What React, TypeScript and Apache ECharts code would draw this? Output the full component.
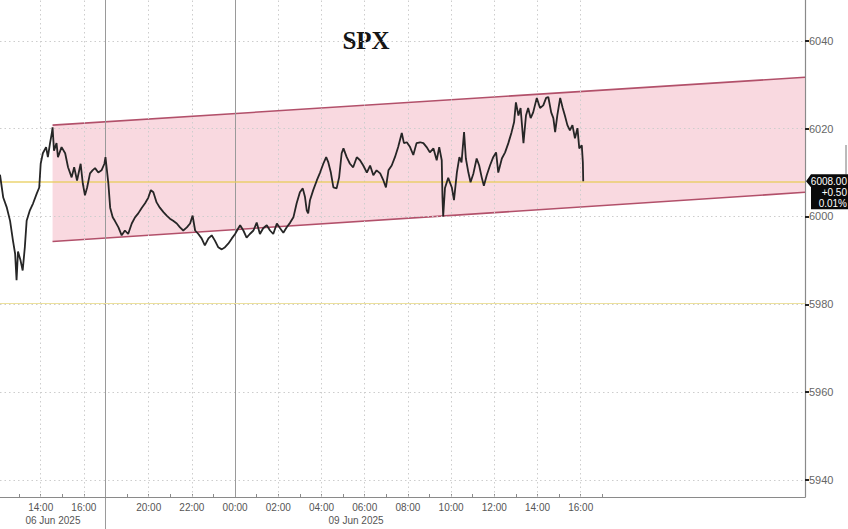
import { useEffect, useRef } from "react";
import * as echarts from "echarts";

// session minutes since 06 Jun 2025 12:00 (weekend gap removed: 300 = 17:00 Fri = 18:00 Sun)
const spxPrices: [number, number][] = [
  [7, 6009.5], [16, 6004.3], [26, 6002], [35, 5999], [43, 5994.5], [49, 5991.5], [53, 5985.5], [57, 5992],
  [64, 5990], [70, 5987.7], [76, 5993], [81, 5999], [90, 6001.4], [99, 6003], [109, 6005.2], [116, 6006.6],
  [120, 6012], [126, 6014.4], [135, 6015.8], [140, 6013.5], [146, 6016.7], [151, 6019], [153, 6020.3], [157, 6015],
  [164, 6016.7], [168, 6013.5], [178, 6015.8], [188, 6014.4], [196, 6011.2], [206, 6008.9], [213, 6011.2], [221, 6008.2],
  [231, 6012], [237, 6007.5], [243, 6004.8], [249, 6006.6], [257, 6009.8], [264, 6010.5], [271, 6011], [280, 6010],
  [289, 6010.5], [297, 6012], [300, 6013.5], [308, 6007.5], [313, 6002], [320, 5999.8], [326, 5999], [336, 5997.5],
  [345, 5995.7], [354, 5996.8], [363, 5996], [373, 5998.4], [382, 5999.8], [391, 6000.7], [401, 6002], [410, 6003],
  [419, 6004.3], [426, 6006], [433, 6005.5], [442, 6003.2], [451, 6002], [461, 6001], [470, 6000.2], [479, 5999.5],
  [488, 5999], [498, 5998.4], [507, 5997.5], [516, 5996.8], [526, 5997.5], [535, 5998.4], [542, 6000.2], [549, 5996.8],
  [558, 5996], [567, 5995], [576, 5993.4], [586, 5995], [595, 5995.7], [604, 5994.5], [613, 5993], [623, 5992.5],
  [632, 5993], [641, 5993.8], [651, 5995], [660, 5996], [669, 5997.3], [674, 5998], [683, 5996.8], [692, 5995.2],
  [701, 5996], [711, 5996.8], [720, 5998.6], [729, 5996], [738, 5997.3], [748, 5998], [757, 5996.8], [766, 5996],
  [776, 5998.4], [785, 5997.3], [794, 5996.3], [803, 5997.5], [813, 5998.6], [822, 5999.8], [831, 6003], [840, 6005.5],
  [848, 6006.4], [854, 6004.5], [859, 6001.4], [863, 6000.7], [868, 6003.7], [877, 6006], [887, 6008.2], [896, 6010],
  [905, 6012], [913, 6013.5], [919, 6012.3], [926, 6010], [933, 6006.6], [942, 6006.4], [949, 6008.9], [956, 6014.4],
  [961, 6015.5], [970, 6013.5], [979, 6012], [988, 6011.2], [998, 6013.5], [1007, 6012.8], [1016, 6011.6], [1026, 6010],
  [1035, 6011.6], [1044, 6009.4], [1053, 6010.5], [1063, 6009.8], [1072, 6008.2], [1079, 6006.6], [1086, 6010.5], [1095, 6011.6],
  [1104, 6013.5], [1113, 6015.8], [1123, 6019], [1129, 6016.7], [1137, 6016.9], [1146, 6015.8], [1155, 6014], [1164, 6016.7],
  [1174, 6016.9], [1183, 6016.7], [1192, 6015.8], [1201, 6014.6], [1211, 6015.5], [1220, 6012.8], [1227, 6015.8], [1234, 6012.8],
  [1236, 6004.3], [1238, 6000], [1243, 6006.5], [1252, 6008.8], [1262, 6006.6], [1268, 6003.7], [1276, 6010], [1283, 6013.5],
  [1289, 6012.3], [1296, 6019.2], [1301, 6013.2], [1308, 6010], [1314, 6007.8], [1322, 6009.8], [1331, 6013.2], [1338, 6011.6],
  [1345, 6008.9], [1351, 6007], [1359, 6009.4], [1368, 6011.6], [1377, 6013.5], [1385, 6014.6], [1391, 6010], [1401, 6013.2],
  [1410, 6014.6], [1419, 6016.7], [1428, 6019.2], [1435, 6021.5], [1440, 6026], [1447, 6023], [1453, 6024.7], [1461, 6016.7],
  [1468, 6023], [1474, 6024.7], [1481, 6022.4], [1488, 6023.7], [1498, 6027], [1507, 6024.7], [1516, 6025.3], [1524, 6027],
  [1530, 6027.2], [1538, 6023.7], [1544, 6022.4], [1549, 6019.2], [1555, 6023], [1563, 6027], [1570, 6024.7], [1576, 6023],
  [1583, 6020.8], [1590, 6019.6], [1597, 6020.8], [1604, 6017.8], [1611, 6020.1], [1616, 6015.5], [1623, 6016.2], [1626, 6012.3],
  [1627, 6008],
];

const tickMinutes = [120, 240, 420, 540, 660, 780, 900, 1020, 1140, 1260, 1380, 1500, 1620];
const tickLabels = ["14:00", "16:00", "20:00", "22:00", "00:00", "02:00", "04:00", "06:00", "08:00", "10:00", "12:00", "14:00", "16:00"];
const hourTickMinutes = [0, 60, 120, 180, 240, 300, 360, 420, 480, 540, 600, 660, 720, 780, 840, 900, 960, 1020, 1080, 1140, 1200, 1260, 1320, 1380, 1440, 1500, 1560, 1620, 1680];
const sessionBreaks = [300, 660];
const dateLabels = ["06 Jun 2025", "09 Jun 2025"];
const dateLabelMinutes = [154, 996];

const yTicks = [5940, 5960, 5980, 6000, 6020, 6040];

const channelMinutes = [153, 2243];
const channelUpper = [6020.8, 6031.7];
const channelLower = [5994.3, 6005.5];

const lastPrice = 6008;
const lastPriceText = ["6008.00", "+0.50", "0.01%"];
const priorLevel = 5980.3;

const X_MIN = 7;
const X_MAX = 2243;
const Y_MIN = 5936.1;
const Y_MAX = 6049.3;

export default function App() {
  const ref = useRef<HTMLDivElement>(null);

  useEffect(() => {
    document.body.style.margin = "0";
    if (!ref.current) return;
    const chart = echarts.init(ref.current, undefined, { renderer: "svg" });

    const gridColor = "#cdcdcd";
    const markData: any[] = [
      ...yTicks.map((v) => ({ yAxis: v, lineStyle: { color: gridColor, type: [1.5, 3], width: 1 } })),
      ...tickMinutes
        .filter((m) => !sessionBreaks.includes(m))
        .map((m) => ({ xAxis: m, lineStyle: { color: gridColor, type: [1.5, 3], width: 1 } })),
      ...sessionBreaks.map((m) => ({ xAxis: m, lineStyle: { color: "#9a9a9a", type: "solid", width: 1 } })),
      { yAxis: priorLevel, lineStyle: { color: "#ece09c", type: "solid", width: 1.2 } },
      { yAxis: lastPrice, lineStyle: { color: "#e6cc58", type: "solid", width: 1.5, opacity: 0.85 } },
    ];

    const option: any = {
      animation: false,
      backgroundColor: "#ffffff",
      grid: { left: 0, right: 43, top: 0, bottom: 32, containLabel: false },
      xAxis: {
        type: "value",
        min: X_MIN,
        max: X_MAX,
        axisLine: { show: true, onZero: false, lineStyle: { color: "#8a8a8a", width: 1.2 } },
        axisTick: { show: true, inside: true, length: 3, customValues: hourTickMinutes, lineStyle: { color: "#8a8a8a" } },
        axisLabel: {
          customValues: tickMinutes,
          formatter: (v: number) => {
            const i = tickMinutes.indexOf(v);
            return i >= 0 ? tickLabels[i] : "";
          },
          fontSize: 10,
          color: "#555",
          margin: 5,
          fontFamily: "Liberation Sans",
        },
        splitLine: { show: false },
      },
      yAxis: {
        type: "value",
        position: "right",
        min: Y_MIN,
        max: Y_MAX,
        axisLine: { show: true, lineStyle: { color: "#8a8a8a", width: 1.2 } },
        axisTick: { show: true, length: 4, customValues: yTicks, lineStyle: { color: "#222", width: 2 } },
        axisLabel: {
          customValues: yTicks,
          formatter: (v: number) => String(Math.round(v)),
          fontSize: 11,
          color: "#666",
          margin: 4,
          fontFamily: "Liberation Sans",
        },
        splitLine: { show: false },
      },
      series: [
        {
          type: "custom",
          name: "channelFill",
          z: 1,
          silent: true,
          data: channelMinutes.map((m, i) => [m, channelLower[i], channelUpper[i]]),
          encode: { x: 0, y: [1, 2] },
          renderItem: (params: any, api: any) => {
            if (params.dataIndex !== 0) return null;
            const pts = [
              api.coord([channelMinutes[0], channelUpper[0]]),
              api.coord([channelMinutes[1], channelUpper[1]]),
              api.coord([channelMinutes[1], channelLower[1]]),
              api.coord([channelMinutes[0], channelLower[0]]),
            ];
            return { type: "polygon", shape: { points: pts }, style: { fill: "rgba(242,170,186,0.45)" } };
          },
        },
        {
          type: "line",
          name: "channelLower",
          z: 3,
          symbol: "none",
          silent: true,
          data: channelMinutes.map((m, i) => [m, channelLower[i]]),
          lineStyle: { color: "#b2506a", width: 1.6 },
          markLine: { silent: true, symbol: "none", label: { show: false }, data: markData },
        },
        {
          type: "line",
          name: "channelUpper",
          z: 3,
          symbol: "none",
          silent: true,
          data: channelMinutes.map((m, i) => [m, channelUpper[i]]),
          lineStyle: { color: "#b2506a", width: 1.6 },
        },
        {
          type: "line",
          name: "SPX",
          z: 5,
          symbol: "none",
          data: spxPrices,
          lineStyle: { color: "#262626", width: 1.8 },
        },
      ],
    };
    chart.setOption(option);

    const px = (m: number, v: number) => chart.convertToPixel({ gridIndex: 0 }, [m, v]) as number[];
    const [, lastY] = px(X_MAX, lastPrice);
    const [breakX, axisY] = px(sessionBreaks[0], Y_MIN);
    const graphic: any[] = [
      {
        type: "text",
        x: 366,
        y: 40,
        style: {
          text: "SPX",
          align: "center",
          verticalAlign: "middle",
          font: "bold 25px 'Liberation Serif'",
          fill: "#151515",
        },
      },
      {
        type: "line",
        shape: { x1: breakX, y1: axisY, x2: breakX, y2: 529 },
        style: { stroke: "#9a9a9a", lineWidth: 1 },
      },
      ...dateLabels.map((t, i) => {
        const [x] = px(dateLabelMinutes[i], Y_MIN);
        return {
          type: "text",
          x,
          y: 520,
          style: { text: t, align: "center", verticalAlign: "middle", font: "10px 'Liberation Sans'", fill: "#555" },
        };
      }),
      {
        type: "line",
        shape: { x1: 846, y1: 145, x2: 846, y2: lastY - 7 },
        style: { stroke: "#777", lineWidth: 1 },
      },
      {
        type: "polygon",
        shape: {
          points: [
            [806, lastY],
            [811, lastY - 7],
            [848, lastY - 7],
            [848, lastY + 28],
            [811, lastY + 28],
            [811, lastY + 6],
          ],
        },
        style: { fill: "#0a0a0a" },
      },
      ...lastPriceText.map((t, i) => ({
        type: "text",
        x: 847,
        y: lastY + i * 11,
        style: {
          text: t,
          align: "right",
          verticalAlign: "middle",
          font: "10px 'Liberation Sans'",
          fill: "#ffffff",
        },
      })),
    ];
    chart.setOption({ graphic });

    return () => chart.dispose();
  }, []);

  return <div ref={ref} style={{ width: 848, height: 529 }} />;
}
